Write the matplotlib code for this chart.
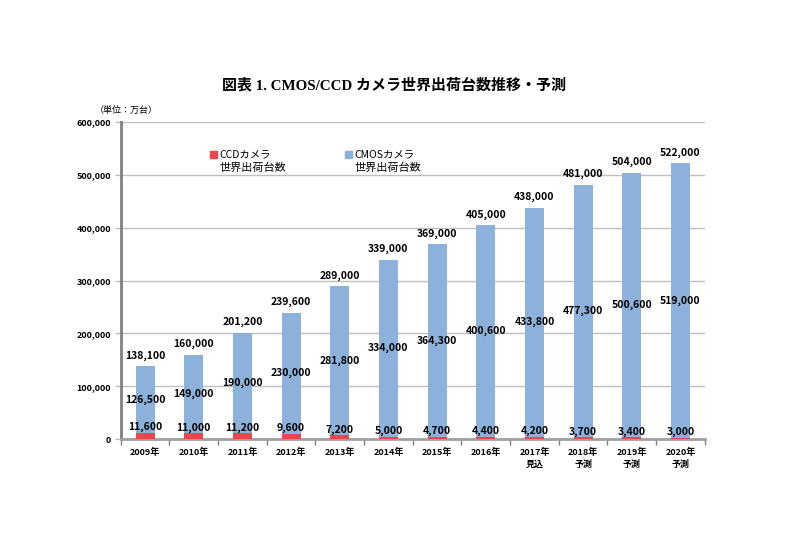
import matplotlib
matplotlib.use("Agg")
import matplotlib.pyplot as plt
from matplotlib.patches import Rectangle
import numpy as np

plt.rcParams['font.family'] = ['Noto Sans CJK JP', 'DejaVu Sans']

categories = ["2009年", "2010年", "2011年", "2012年", "2013年", "2014年",
              "2015年", "2016年", "2017年\n見込", "2018年\n予測", "2019年\n予測", "2020年\n予測"]
ccd = [11600, 11000, 11200, 9600, 7200, 5000, 4700, 4400, 4200, 3700, 3400, 3000]
cmos = [126500, 149000, 190000, 230000, 281800, 334000, 364300, 400600, 433800, 477300, 500600, 519000]
totals = [138100, 160000, 201200, 239600, 289000, 339000, 369000, 405000, 438000, 481000, 504000, 522000]
yticks = [0, 100000, 200000, 300000, 400000, 500000, 600000]
series_names = [("CCDカメラ", "世界出荷台数"), ("CMOSカメラ", "世界出荷台数")]

red = "#E8474C"
blue = "#8CB1DA"

W, H = 800, 533
fig = plt.figure(figsize=(8, 5.33), dpi=100)
ax = fig.add_axes([0.151, 0.176, 0.730, 0.595])

x = np.arange(len(categories))
w = 0.39
ax.bar(x, ccd, width=w, color=red, zorder=3)
ax.bar(x, cmos, width=w, bottom=ccd, color=blue, zorder=3)

ax.set_xlim(-0.5, len(categories) - 0.5)
ax.set_ylim(0, 600000)
ax.set_yticks(yticks)
ax.set_yticklabels([f"{v:,}" for v in yticks], fontsize=6.5, fontweight='bold')
ax.yaxis.grid(True, color="#BFBFBF", linewidth=1.0, zorder=0)
ax.set_axisbelow(True)

ax.set_xticks(x)
ax.set_xticklabels(categories, fontsize=6.5, fontweight='bold', linespacing=1.4)
ax.tick_params(axis='x', length=0, pad=6)
ax.set_xticks(np.arange(-0.5, len(categories), 1), minor=True)
ax.tick_params(axis='x', which='minor', length=4, color="#808080", width=1)
ax.tick_params(axis='y', length=4, color="#BFBFBF", width=1, pad=3)

for s in ['top', 'right']:
    ax.spines[s].set_visible(False)
ax.spines['left'].set_color("#808080")
ax.spines['left'].set_linewidth(2)
ax.spines['bottom'].set_color("#A0A0A0")
ax.spines['bottom'].set_linewidth(2)

for i in range(len(categories)):
    ax.annotate(f"{totals[i]:,}", (x[i], totals[i]), xytext=(0, 4), textcoords='offset points',
                ha='center', va='bottom', fontsize=7.5, fontweight='bold', zorder=5)
    ax.text(x[i], ccd[i] + cmos[i] / 2, f"{cmos[i]:,}", ha='center', va='center',
            fontsize=7.5, fontweight='bold', zorder=5)
    ax.annotate(f"{ccd[i]:,}", (x[i], ccd[i]), xytext=(0, 0.5), textcoords='offset points',
                ha='center', va='bottom', fontsize=7.5, fontweight='bold', zorder=5)

# legend (manual, handle aligned with first text line)
for (px, col, (l1, l2)) in [(210, red, series_names[0]), (345, blue, series_names[1])]:
    fig.patches.append(Rectangle((px / W, 1 - 157.5 / H), 6.5 / W, 6.5 / H,
                                 transform=fig.transFigure, color=col, figure=fig))
    fig.text((px + 9) / W, 1 - 154 / H, l1, ha='left', va='center', fontsize=7.5)
    fig.text((px + 9) / W, 1 - 168 / H, l2, ha='left', va='center', fontsize=8)

fig.text(0.493, 0.84, "図表 1. CMOS/CCD カメラ世界出荷台数推移・予測", ha='center', va='center',
         fontsize=10.8, fontweight='bold', family=['Liberation Serif', 'Noto Sans CJK JP'])
fig.text(0.118, 0.793, "（単位：万台）", ha='left', va='center', fontsize=6.5)

fig.savefig("out.png", dpi=100)
